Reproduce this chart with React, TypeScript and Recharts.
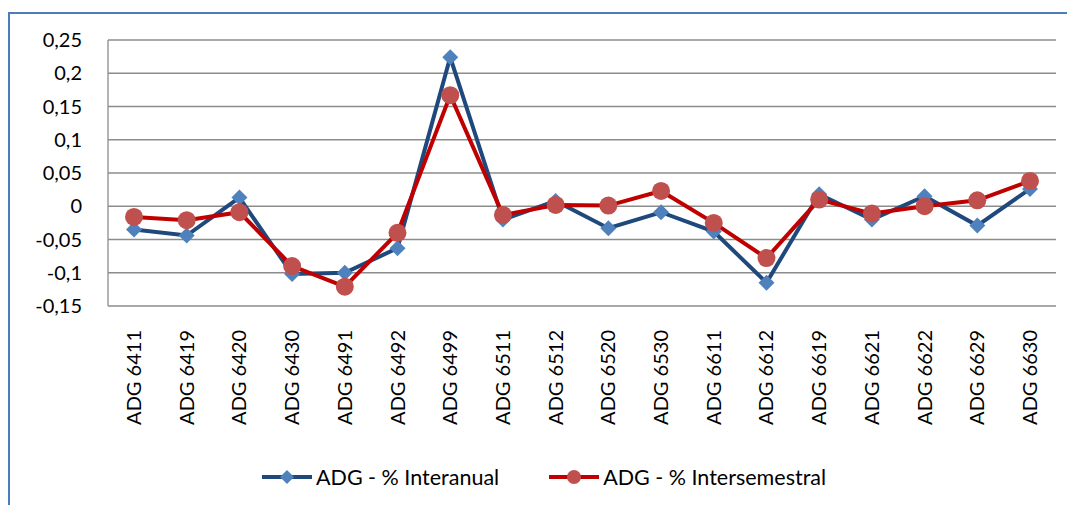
import React from "react";
import { LineChart, Line, XAxis, YAxis, CartesianGrid, Legend } from "recharts";

const categories = [
  "ADG 6411", "ADG 6419", "ADG 6420", "ADG 6430", "ADG 6491", "ADG 6492",
  "ADG 6499", "ADG 6511", "ADG 6512", "ADG 6520", "ADG 6530", "ADG 6611",
  "ADG 6612", "ADG 6619", "ADG 6621", "ADG 6622", "ADG 6629", "ADG 6630",
];
const interanual = [
  -0.035, -0.044, 0.013, -0.102, -0.1, -0.063, 0.224, -0.02, 0.008,
  -0.033, -0.009, -0.038, -0.115, 0.018, -0.02, 0.015, -0.029, 0.026,
];
const intersemestral = [
  -0.016, -0.021, -0.009, -0.09, -0.121, -0.04, 0.167, -0.013, 0.002,
  0.001, 0.023, -0.025, -0.078, 0.01, -0.011, 0.0, 0.009, 0.038,
];
const yTicks = [-0.15, -0.1, -0.05, 0, 0.05, 0.1, 0.15, 0.2, 0.25];

const SERIES = [
  { key: "interanual", name: "ADG - % Interanual", line: "#1F497D", marker: "#4F81BD", shape: "diamond" },
  { key: "intersemestral", name: "ADG - % Intersemestral", line: "#C00000", marker: "#C0504D", shape: "circle" },
];

const data = categories.map((c, i) => ({
  name: c,
  interanual: interanual[i],
  intersemestral: intersemestral[i],
}));

const FONT = "Lato, 'Open Sans', sans-serif";

const fmt = (v: number) => String(v).replace(".", ",");

const Diamond = (props: any) => {
  const { cx, cy, index } = props;
  if (cx == null || cy == null) return <g key={`d-${index}`} />;
  const r = 8;
  return (
    <path
      key={`d-${index}`}
      d={`M${cx},${cy - r}L${cx + r},${cy}L${cx},${cy + r}L${cx - r},${cy}Z`}
      fill="#4F81BD"
    />
  );
};

const Circle = (props: any) => {
  const { cx, cy, index } = props;
  if (cx == null || cy == null) return <g key={`c-${index}`} />;
  return <circle key={`c-${index}`} cx={cx} cy={cy} r={9} fill="#C0504D" />;
};

const XTick = (props: any) => {
  const { x, y, payload } = props;
  return (
    <g transform={`translate(${x},${y})`}>
      <text
        transform="rotate(-90)"
        x={-24}
        y={0}
        dy="0.35em"
        textAnchor="end"
        fill="#000"
        fontSize={20}
        fontFamily={FONT}
      >
        {payload.value}
      </text>
    </g>
  );
};

const LegendContent = () => (
  <div style={{ display: "flex", height: 30, alignItems: "center", fontFamily: FONT, fontSize: 21.5, color: "#000" }}>
    {SERIES.map((s, i) => (
      <div key={s.key} style={{ display: "flex", alignItems: "center", marginRight: i === 0 ? 50 : 0 }}>
        <svg width={50} height={20}>
          <line x1={0} y1={10} x2={50} y2={10} stroke={s.line} strokeWidth={4} />
          {s.shape === "diamond" ? (
            <path d="M25,3L32,10L25,17L18,10Z" fill={s.marker} />
          ) : (
            <circle cx={25} cy={10} r={7} fill={s.marker} />
          )}
        </svg>
        <span style={{ marginLeft: 4 }}>{s.name}</span>
      </div>
    ))}
  </div>
);

export default function App() {
  return (
    <div style={{ position: "absolute", left: 0, top: 0, width: 1067, height: 505, overflow: "hidden", background: "#fff" }}>
      <div
        style={{
          position: "absolute",
          left: 8,
          top: 12,
          width: 1200,
          height: 600,
          border: "2px solid #4A7EBB",
          boxSizing: "border-box",
        }}
      />
      <div style={{ position: "absolute", left: 0, top: 0 }}>
        <LineChart
          width={1067}
          height={505}
          data={data}
          margin={{ top: 40, right: 11, bottom: 10, left: 0 }}
        >
          <CartesianGrid horizontal vertical={false} stroke="#8C8C8C" strokeWidth={1.3} />
          <XAxis
            dataKey="name"
            interval={0}
            padding={{ left: 26, right: 26 }}
            axisLine={false}
            tickLine={false}
            tickSize={0}
            tickMargin={0}
            height={159}
            tick={<XTick />}
          />
          <YAxis
            width={108}
            domain={[-0.15, 0.25]}
            ticks={yTicks}
            tickFormatter={fmt}
            axisLine={{ stroke: "#8C8C8C", strokeWidth: 1.3 }}
            tickLine={false}
            tickSize={0}
            tickMargin={26}
            tick={{ fill: "#000", fontSize: 20, fontFamily: FONT }}
          />
          <Legend
            verticalAlign="bottom"
            content={<LegendContent />}
            wrapperStyle={{ left: 262, top: 462, width: 700 }}
          />
          <Line
            dataKey="interanual"
            name={SERIES[0].name}
            stroke={SERIES[0].line}
            strokeWidth={4}
            dot={Diamond}
            activeDot={false}
            isAnimationActive={false}
          />
          <Line
            dataKey="intersemestral"
            name={SERIES[1].name}
            stroke={SERIES[1].line}
            strokeWidth={4}
            dot={Circle}
            activeDot={false}
            isAnimationActive={false}
          />
        </LineChart>
      </div>
    </div>
  );
}
